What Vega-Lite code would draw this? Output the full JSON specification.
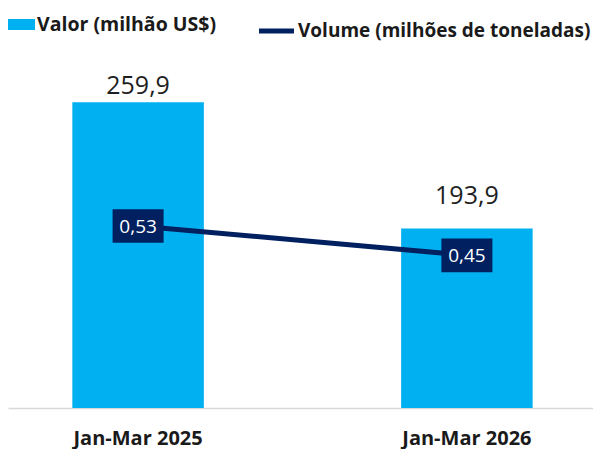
{
  "$schema": "https://vega.github.io/schema/vega-lite/v6.json",
  "width": 585,
  "height": 348,
  "autosize": {"type": "none"},
  "padding": {"left": 8, "top": 60, "right": 0, "bottom": 41},
  "background": "#ffffff",
  "config": {
    "view": {"stroke": null},
    "font": "Open Sans",
    "locale": {"number": {"decimal": ",", "thousands": ".", "grouping": [3], "currency": ["", ""]}}
  },
  "data": {
    "values": [
      {"period": "Jan-Mar 2025", "valor": 259.9, "volume": 0.53},
      {"period": "Jan-Mar 2026", "valor": 193.9, "volume": 0.45}
    ]
  },
  "encoding": {
    "x": {
      "field": "period",
      "type": "nominal",
      "sort": null,
      "scale": {"paddingInner": 0.6, "paddingOuter": 0.1896, "align": 0.516},
      "axis": {
        "title": null,
        "labelAngle": 0,
        "domainColor": "#d9d9d9",
        "domainWidth": 1.5,
        "ticks": false,
        "tickSize": 0,
        "labelPadding": 20,
        "labelFontSize": 20,
        "labelFontWeight": "bold",
        "labelColor": "#1a1a1a",
        "labelFont": "Open Sans",
        "grid": false
      }
    }
  },
  "layer": [
    {
      "encoding": {
        "y": {"field": "valor", "type": "quantitative", "scale": {"domain": [100, 282], "zero": false, "nice": false}, "axis": null}
      },
      "layer": [
        {
          "mark": {"type": "bar", "clip": true},
          "encoding": {
            "y2": {"datum": 100},
            "color": {
              "datum": "Valor (milhão US$)",
              "scale": {"range": ["#00B0F0"]},
              "legend": {
                "title": null,
                "orient": "none",
                "legendX": 0,
                "legendY": -49,
                "padding": 0,
                "symbolType": "M-1,-0.407H1V0.407H-1Z",
                "symbolSize": 729,
                "symbolStrokeWidth": 0,
                "labelFontSize": 19.5,
                "labelFontWeight": "bold",
                "labelColor": "#1a1a1a",
                "labelFont": "Open Sans",
                "labelOffset": 2,
                "labelLimit": 400
              }
            }
          }
        },
        {
          "transform": [{"filter": "datum.period == 'Jan-Mar 2025'"}],
          "mark": {"type": "text", "dy": -8, "baseline": "alphabetic", "fontSize": 25, "color": "#1f1f1f", "font": "Open Sans"},
          "encoding": {"text": {"field": "valor", "type": "quantitative", "format": ".1f"}}
        },
        {
          "transform": [{"filter": "datum.period == 'Jan-Mar 2026'"}],
          "mark": {"type": "text", "dy": -24, "baseline": "alphabetic", "fontSize": 25, "color": "#1f1f1f", "font": "Open Sans"},
          "encoding": {"text": {"field": "valor", "type": "quantitative", "format": ".1f"}}
        }
      ]
    },
    {
      "encoding": {
        "y": {"field": "volume", "type": "quantitative", "scale": {"domain": [0.033, 0.9835], "zero": false, "nice": false}, "axis": null}
      },
      "layer": [
        {
          "mark": {"type": "line", "strokeWidth": 5},
          "encoding": {
            "stroke": {
              "datum": "Volume (milhões de toneladas)",
              "scale": {"range": ["#002060"]},
              "legend": {
                "title": null,
                "orient": "none",
                "legendX": 248.5,
                "legendY": -49,
                "padding": 0,
                "symbolType": "stroke",
                "symbolSize": 1225,
                "symbolStrokeWidth": 5,
                "labelFontSize": 19,
                "labelFontWeight": "bold",
                "labelColor": "#1a1a1a",
                "labelFont": "Open Sans",
                "labelOffset": 1.5,
                "labelLimit": 400
              }
            }
          }
        },
        {
          "mark": {"type": "point", "shape": "M-1,-0.66H1V0.66H-1Z", "size": 2601, "filled": true, "color": "#002060", "opacity": 1, "strokeWidth": 0}
        },
        {
          "mark": {"type": "text", "baseline": "middle", "fontSize": 19, "color": "#ffffff", "font": "Open Sans", "dy": 1},
          "encoding": {"text": {"field": "volume", "type": "quantitative", "format": ".2f"}}
        }
      ]
    }
  ],
  "resolve": {"scale": {"y": "independent"}}
}
